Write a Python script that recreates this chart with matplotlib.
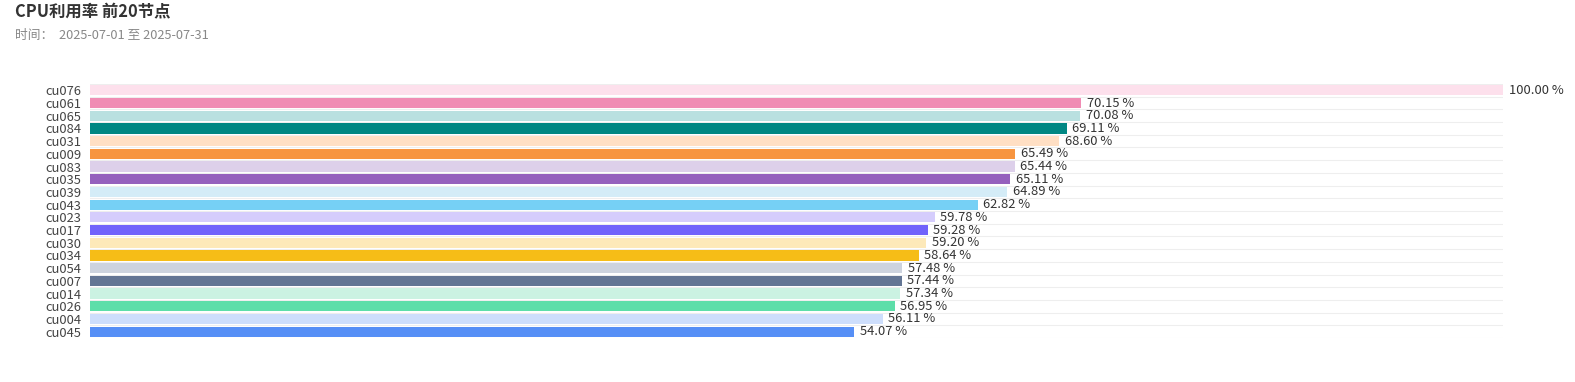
import numpy as np
import matplotlib
matplotlib.use("Agg")
import matplotlib.pyplot as plt

plt.rcParams['font.family'] = ['Noto Sans CJK SC', 'DejaVu Sans']

nodes = ["cu076", "cu061", "cu065", "cu084", "cu031", "cu009", "cu083", "cu035", "cu039", "cu043",
         "cu023", "cu017", "cu030", "cu034", "cu054", "cu007", "cu014", "cu026", "cu004", "cu045"]
cpu_usage = [100.00, 70.15, 70.08, 69.11, 68.60, 65.49, 65.44, 65.11, 64.89, 62.82,
             59.78, 59.28, 59.20, 58.64, 57.48, 57.44, 57.34, 56.95, 56.11, 54.07]
bar_colors = ["#fde0ec", "#f08cb4", "#b9e0e0", "#008783", "#ffdfc4", "#f79540", "#ddd0ea", "#9560bd",
              "#d4ecf7", "#76d0f5", "#d5cdfc", "#7163fb", "#fde9b9", "#f6bd17", "#cdd3de", "#637594",
              "#cbf2e2", "#5ddea9", "#cddefc", "#568ff6"]

fig = plt.figure(figsize=(15.75, 3.82), dpi=100)
ax = fig.add_axes([90 / 1575, 1 - 338 / 382, (1503 - 90) / 1575, (338 - 84) / 382])

y = np.arange(len(nodes))
ax.barh(y, cpu_usage, height=0.8, color=bar_colors, zorder=2)

# row separators
for b in np.arange(len(nodes) + 1) - 0.5:
    ax.axhline(b, color="#eeeeee", lw=0.8, zorder=1)

for yi, v in zip(y, cpu_usage):
    ax.text(v + 0.4, yi, f"{v:.2f} %", va="center", ha="left", fontsize=9.3, color="#333333")

ax.set_xlim(0, 100)
ax.set_ylim(len(nodes) - 0.5, -0.5)
ax.set_yticks(y)
ax.set_yticklabels(nodes, fontsize=9.3, color="#444444")
ax.tick_params(axis="y", length=0, pad=6)
ax.set_xticks([])
for s in ax.spines.values():
    s.set_visible(False)

fig.text(15 / 1575, 1 - 12 / 382, "CPU利用率 前20节点", fontsize=11.8, fontweight="bold",
         color="#333333", va="center", ha="left")
fig.text(15 / 1575, 1 - 35 / 382, "时间：  2025-07-01 至 2025-07-31", fontsize=9.2,
         color="#888888", va="center", ha="left")

fig.savefig("out.png", dpi=100)
